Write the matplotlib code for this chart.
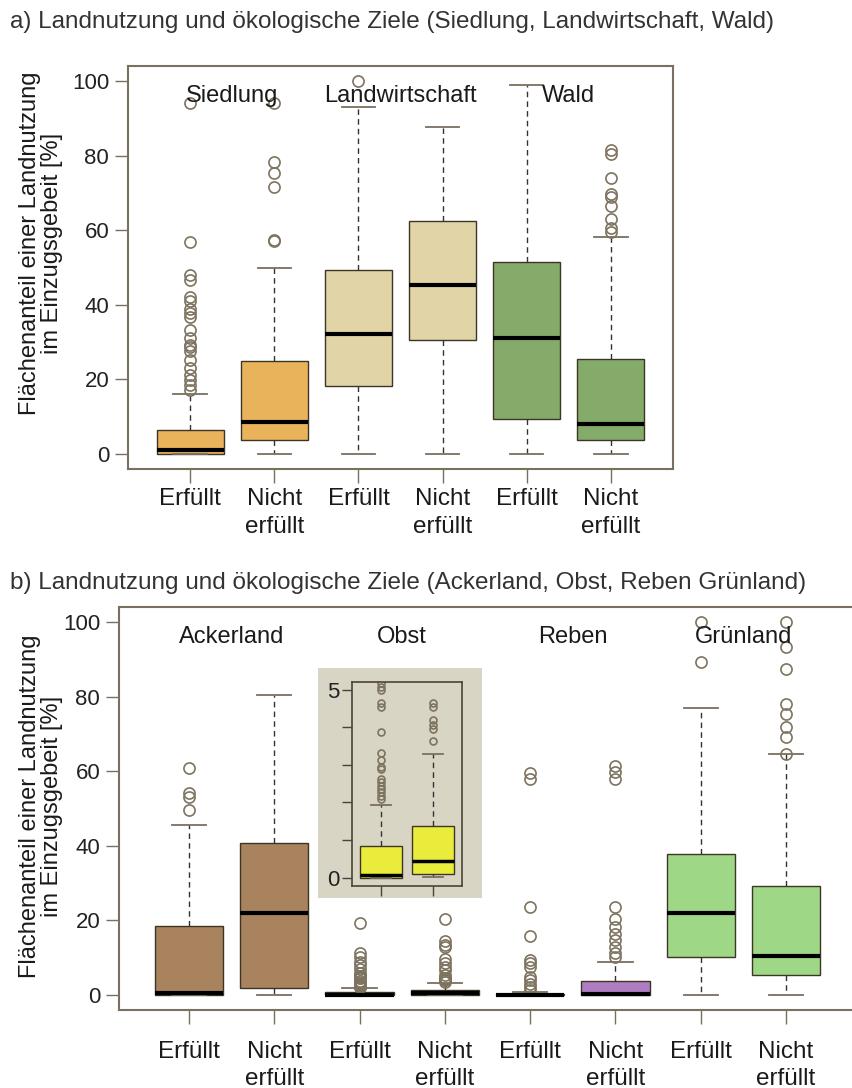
import matplotlib
matplotlib.use("Agg")
import matplotlib.pyplot as plt

plt.rcParams['font.family'] = ['Liberation Sans', 'DejaVu Sans']

# --- data panel a (Siedlung, Landwirtschaft, Wald; each Erfüllt / Nicht erfüllt)
a_groups = ["Siedlung", "Landwirtschaft", "Wald"]
a_ticklabels = ["Erfüllt", "Nicht\nerfüllt"] * 3
a_whislo = [0, 0, 0, 0, 0, 0]
a_q1 = [0.0, 3.8, 18.3, 30.6, 9.5, 3.8]
a_med = [1.0, 8.6, 32.2, 45.3, 31.0, 8.1]
a_q3 = [6.5, 25.0, 49.2, 62.4, 51.4, 25.5]
a_whishi = [16.0, 49.8, 93.0, 87.7, 98.8, 58.3]
a_fliers = [
    [17.2, 18.5, 19.9, 21.2, 23.0, 25.2, 27.5, 28.6, 29.3, 31.0, 33.3, 36.8,
     37.7, 39.0, 41.0, 42.2, 46.7, 48.0, 56.9, 94.0],
    [57.2, 57.5, 71.6, 75.2, 78.3, 94.0],
    [100.0],
    [],
    [],
    [59.6, 60.5, 62.9, 66.5, 69.0, 69.8, 73.9, 80.5, 81.4],
]
a_colors = ["#E9B35C", "#E9B35C", "#E1D4A7", "#E1D4A7", "#84AB6A", "#84AB6A"]

# --- data panel b (Ackerland, Obst, Reben, Grünland)
b_groups = ["Ackerland", "Obst", "Reben", "Grünland"]
b_ticklabels = ["Erfüllt", "Nicht\nerfüllt"] * 4
b_whislo = [0, 0, 0, 0.02, 0, 0, 0, 0]
b_q1 = [0.0, 1.8, 0.0, 0.09, 0.0, 0.0, 10.1, 5.5]
b_med = [0.5, 22.0, 0.06, 0.44, 0.05, 0.3, 22.1, 10.4]
b_q3 = [18.5, 40.8, 0.85, 1.38, 0.3, 3.75, 37.9, 29.2]
b_whishi = [45.5, 80.5, 1.94, 3.29, 0.8, 8.75, 77.0, 64.5]
b_fliers = [
    [49.7, 53.1, 54.2, 60.9],
    [],
    [2.09, 2.18, 2.27, 2.36, 2.45, 2.54, 2.62, 2.89, 2.94, 3.13, 3.32, 3.87,
     4.54, 4.63, 5.0, 5.07, 5.18, 5.8, 7.1, 8.0, 8.9, 10.3, 11.3, 19.4],
    [3.62, 3.96, 4.05, 4.18, 4.54, 4.63, 5.4, 6.7, 7.6, 8.5, 9.6, 12.9, 13.4,
     14.6, 20.5],
    [1.3, 2.2, 3.1, 4.0, 4.9, 7.6, 8.5, 9.4, 15.8, 23.7, 58.0, 59.4],
    [10.3, 11.2, 12.9, 14.7, 16.5, 18.3, 20.3, 23.7, 58.0, 59.8, 61.4],
    [89.3, 100.0],
    [64.7, 69.2, 71.9, 75.4, 77.9, 87.5, 93.3, 100.0],
]
b_colors = ["#A8835D", "#A8835D", "#E9EC3A", "#E9EC3A",
            "#B07DC3", "#B07DC3", "#9ED887", "#9ED887"]

inset_idx = [2, 3]  # Obst boxes shown zoomed 0-5 %

yticks = [0, 20, 40, 60, 80, 100]
ylabel = "Flächenanteil einer Landnutzung\nim Einzugsgebeit [%]"
title_a = "a) Landnutzung und ökologische Ziele (Siedlung, Landwirtschaft, Wald)"
title_b = "b) Landnutzung und ökologische Ziele (Ackerland, Obst, Reben Grünland)"

W, H = 853, 1088
FRAME = "#7a7060"
fig = plt.figure(figsize=(W / 100, H / 100), dpi=100)


def px_axes(x0, y0, x1, y1):
    return fig.add_axes([x0 / W, 1 - y1 / H, (x1 - x0) / W, (y1 - y0) / H])


def make_stats(lo, q1, med, q3, hi, fl):
    return [dict(whislo=a, q1=b, med=c, q3=d, whishi=e, fliers=f)
            for a, b, c, d, e, f in zip(lo, q1, med, q3, hi, fl)]


def draw_boxes(ax, stats, colors, positions, mlw=3, ms=8):
    bp = ax.bxp(stats, positions=positions, widths=0.8, patch_artist=True,
                boxprops=dict(edgecolor="#3d3526", linewidth=1.0),
                medianprops=dict(color="black", linewidth=mlw),
                whiskerprops=dict(color="#333333", linestyle=(0, (4, 3)), linewidth=1),
                capprops=dict(color=FRAME, linewidth=1.3),
                flierprops=dict(marker="o", markerfacecolor="none",
                                markeredgecolor="#7d735f", markersize=ms,
                                markeredgewidth=1.2))
    for patch, c in zip(bp["boxes"], colors):
        patch.set_facecolor(c)
    return bp


def style_axes(ax, ticklabels, n, xpad):
    for s in ax.spines.values():
        s.set_color(FRAME)
        s.set_linewidth(1.5)
    ax.set_yticks(yticks)
    ax.set_xticks(range(1, n + 1))
    ax.set_xticklabels(ticklabels, fontsize=17.5, linespacing=1.3, color="#1a1a1a")
    ax.tick_params(axis="y", direction="out", length=9.5, width=1, color=FRAME,
                   labelsize=16, labelcolor="#222222", pad=4)
    ax.tick_params(axis="x", direction="out", length=10, width=1, color=FRAME,
                   pad=xpad)
    ax.set_ylim(-4, 104)


# panel a
ax_a = px_axes(128, 66, 673, 469)
draw_boxes(ax_a, make_stats(a_whislo, a_q1, a_med, a_q3, a_whishi, a_fliers),
           a_colors, range(1, 7))
style_axes(ax_a, a_ticklabels, 6, 4)
ax_a.set_xlim(0.26, 6.74)
for i, g in enumerate(a_groups):
    ax_a.text(1.5 + 2 * i, 96, g, ha="center", va="center", fontsize=17,
              color="#1a1a1a")

# panel b
ax_b = px_axes(119, 607, 856, 1010)
draw_boxes(ax_b, make_stats(b_whislo, b_q1, b_med, b_q3, b_whishi, b_fliers),
           b_colors, range(1, 9))
style_axes(ax_b, b_ticklabels, 8, 12)
ax_b.set_xlim(0.18, 8.82)
for i, g in enumerate(b_groups):
    ax_b.text(1.5 + 2 * i, 96, g, ha="center", va="center", fontsize=17,
              color="#1a1a1a")

# inset for Obst (0-5 %)
bg = px_axes(318, 668, 482, 898)
bg.set_facecolor("#D9D5C5")
bg.set_xticks([])
bg.set_yticks([])
for s in bg.spines.values():
    s.set_visible(False)

ax_in = px_axes(352, 682, 462, 886)
ax_in.set_facecolor("#D9D5C5")
in_stats = make_stats(*[[arr[i] for i in inset_idx] for arr in
                        (b_whislo, b_q1, b_med, b_q3, b_whishi, b_fliers)])
draw_boxes(ax_in, in_stats, [b_colors[i] for i in inset_idx], [1, 2],
           mlw=2.5, ms=5)
ax_in.set_xlim(0.44, 2.56)
ax_in.set_ylim(-0.22, 5.2)
ax_in.set_yticks([0, 1, 2, 3, 4, 5])
ax_in.set_yticklabels(["0", "", "", "", "", "5"])
ax_in.set_xticks([1, 2])
ax_in.set_xticklabels(["", ""])
for s in ax_in.spines.values():
    s.set_color("#4a4436")
    s.set_linewidth(1.2)
ax_in.tick_params(direction="out", length=7, width=1, color="#4a4436",
                  labelsize=16, labelcolor="#222222", pad=2)

# titles and y labels
fig.text(10 / W, 1 - 22 / H, title_a, fontsize=17.5, va="center", color="#333333")
fig.text(10 / W, 1 - 583 / H, title_b, fontsize=17.5, va="center", color="#333333")
for yc in (243, 806):
    fig.text(41 / W, 1 - yc / H, ylabel, rotation=90, ha="center", va="center",
             fontsize=17, linespacing=1.05, color="#1a1a1a", multialignment="center")

fig.savefig("out.png", dpi=100)
